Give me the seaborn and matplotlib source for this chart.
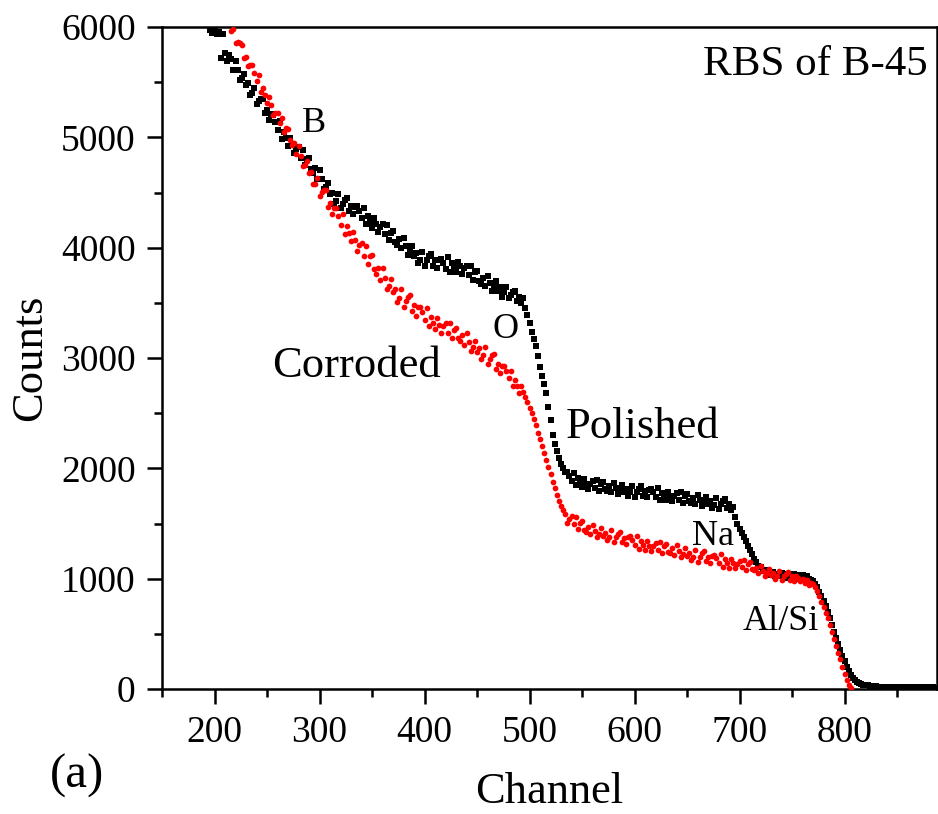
import numpy as np
import pandas as pd
import matplotlib
matplotlib.use("Agg")
import matplotlib.pyplot as plt
import seaborn as sns
from matplotlib.ticker import MultipleLocator

# RBS spectra of sample B-45: counts per channel (every second channel)
polished_channel = np.arange(196, 891, 2)
polished_counts = [
    5975, 5950, 5965, 5940, 5955, 5720, 5935, 5760, 5690, 5745,
    5708, 5612, 5692, 5610, 5522, 5538, 5576, 5473, 5490, 5387,
    5399, 5449, 5304, 5333, 5348, 5350, 5218, 5247, 5158, 5208,
    5199, 5140, 5066, 5147, 4989, 5049, 4990, 4923, 4997, 4930,
    4854, 4895, 4908, 4815, 4884, 4750, 4805, 4810, 4711, 4675,
    4718, 4622, 4702, 4620, 4532, 4548, 4585, 4483, 4499, 4397,
    4419, 4485, 4355, 4400, 4431, 4447, 4331, 4376, 4302, 4368,
    4379, 4331, 4268, 4360, 4214, 4284, 4236, 4181, 4265, 4210,
    4144, 4191, 4211, 4125, 4201, 4073, 4135, 4147, 4055, 4025,
    4078, 3994, 4084, 4014, 3936, 3964, 4013, 3921, 3949, 3857,
    3889, 3960, 3836, 3886, 3923, 3945, 3835, 3885, 3817, 3888,
    3899, 3862, 3811, 3913, 3778, 3860, 3823, 3778, 3874, 3830,
    3764, 3815, 3838, 3755, 3834, 3710, 3775, 3790, 3701, 3675,
    3728, 3649, 3745, 3680, 3608, 3642, 3696, 3610, 3643, 3557,
    3595, 3640, 3545, 3575, 3595, 3605, 3520, 3550, 3495, 3540,
    3450, 3390, 3320, 3240, 3170, 3110, 3020, 2920, 2840, 2760,
    2680, 2560, 2440, 2300, 2220, 2160, 2090, 2040, 2000, 1970,
    1969, 1933, 1886, 1962, 1849, 1908, 1872, 1832, 1901, 1860,
    1811, 1858, 1881, 1823, 1892, 1799, 1857, 1876, 1811, 1797,
    1844, 1787, 1867, 1821, 1768, 1799, 1846, 1783, 1813, 1750,
    1781, 1840, 1743, 1785, 1817, 1837, 1751, 1793, 1741, 1800,
    1815, 1784, 1742, 1822, 1714, 1779, 1748, 1712, 1786, 1750,
    1703, 1749, 1773, 1714, 1783, 1690, 1748, 1766, 1702, 1687,
    1734, 1677, 1757, 1711, 1658, 1689, 1736, 1673, 1703, 1640,
    1671, 1729, 1632, 1673, 1704, 1723, 1637, 1678, 1621, 1652,
    1560, 1500, 1450, 1410, 1380, 1340, 1300, 1260, 1220, 1180,
    1150, 1115, 1105, 1070, 1075, 1045, 1070, 1035, 1060, 1025,
    1045, 1020, 1050, 1010, 1035, 1045, 1005, 1030, 1040, 1000,
    1030, 1010, 1035, 1005, 1020, 995, 990, 975, 950, 920,
    880, 840, 800, 750, 700, 640, 580, 520, 460, 410,
    350, 300, 250, 200, 160, 130, 100, 80, 65, 55,
    45, 40, 35, 32, 30, 28, 25, 24, 22, 20,
    20, 18, 22, 17, 19, 16, 20, 15, 18, 16,
    17, 14, 18, 15, 16, 13, 17, 14, 15, 12,
    15, 13, 14, 12, 15, 11, 13, 12,
]

corroded_channel = np.arange(216, 807, 2)
corroded_counts = [
    5965, 5982, 5859, 5862, 5854, 5836, 5723, 5726, 5643, 5660,
    5652, 5586, 5509, 5563, 5414, 5450, 5385, 5313, 5362, 5290,
    5202, 5224, 5222, 5129, 5175, 5047, 5081, 5072, 4974, 4930,
    4948, 4847, 4921, 4834, 4740, 4750, 4782, 4674, 4685, 4577,
    4576, 4634, 4468, 4502, 4520, 4522, 4372, 4406, 4304, 4362,
    4356, 4290, 4209, 4303, 4126, 4196, 4130, 4057, 4143, 4070,
    3968, 4023, 4043, 3927, 4019, 3849, 3922, 3933, 3808, 3765,
    3816, 3705, 3819, 3726, 3624, 3656, 3716, 3596, 3629, 3509,
    3543, 3626, 3458, 3514, 3553, 3573, 3423, 3479, 3383, 3466,
    3466, 3414, 3346, 3453, 3289, 3373, 3321, 3260, 3360, 3300,
    3226, 3287, 3316, 3225, 3318, 3178, 3255, 3276, 3177, 3150,
    3212, 3119, 3225, 3148, 3063, 3097, 3156, 3055, 3089, 2988,
    3026, 3097, 2945, 2992, 3023, 3039, 2902, 2949, 2861, 2932,
    2932, 2880, 2816, 2883, 2747, 2797, 2745, 2686, 2748, 2690,
    2650, 2600, 2550, 2500, 2450, 2390, 2320, 2270, 2200, 2140,
    2080, 2010, 1950, 1880, 1820, 1760, 1700, 1660, 1620, 1590,
    1502, 1545, 1564, 1493, 1560, 1452, 1507, 1520, 1443, 1420,
    1469, 1404, 1489, 1436, 1377, 1408, 1457, 1386, 1417, 1346,
    1377, 1438, 1331, 1374, 1405, 1424, 1329, 1372, 1313, 1374,
    1387, 1352, 1305, 1390, 1271, 1338, 1303, 1262, 1341, 1300,
    1248, 1298, 1324, 1260, 1334, 1234, 1296, 1316, 1246, 1230,
    1280, 1216, 1302, 1250, 1192, 1224, 1274, 1204, 1236, 1166,
    1198, 1260, 1154, 1198, 1230, 1250, 1156, 1200, 1142, 1204,
    1218, 1184, 1138, 1224, 1106, 1174, 1140, 1100, 1180, 1140,
    1096, 1137, 1158, 1104, 1165, 1081, 1132, 1148, 1089, 1075,
    1098, 1049, 1112, 1072, 1026, 1049, 1085, 1031, 1053, 999,
    1022, 1069, 988, 1021, 1045, 1060, 988, 1021, 976, 1023,
    1010, 975, 995, 960, 990, 945, 965, 950, 925, 890,
    840, 790, 740, 690, 640, 580, 520, 450, 390, 330,
    270, 200, 140, 80, 35, 5,
]

x_ticks = [200, 300, 400, 500, 600, 700, 800]
y_ticks = [0, 1000, 2000, 3000, 4000, 5000, 6000]

polished = pd.DataFrame({"Channel": polished_channel, "Counts": polished_counts})
corroded = pd.DataFrame({"Channel": corroded_channel, "Counts": corroded_counts})

sns.set_style("ticks")
plt.rcParams["font.family"] = ["Liberation Serif", "DejaVu Serif"]
plt.rcParams["text.color"] = "black"
plt.rcParams["axes.labelcolor"] = "black"
plt.rcParams["xtick.color"] = "black"
plt.rcParams["ytick.color"] = "black"

fig = plt.figure(figsize=(9.38, 8.14), dpi=100)
ax = fig.add_axes([162 / 938, 125 / 814, 775 / 938, 662 / 814])

sns.scatterplot(data=polished, x="Channel", y="Counts", marker="s", color="black",
                s=15, linewidth=0, ax=ax, zorder=3)
sns.scatterplot(data=corroded, x="Channel", y="Counts", marker="o", color="#ff0000",
                s=17, linewidth=0, ax=ax, zorder=4)

ax.set_xlim(150, 888)
ax.set_ylim(0, 6000)
ax.set_xticks(x_ticks)
ax.set_yticks(y_ticks)
ax.xaxis.set_minor_locator(MultipleLocator(50))
ax.yaxis.set_minor_locator(MultipleLocator(500))

for side in ["left", "bottom", "top", "right"]:
    ax.spines[side].set_visible(True)
    ax.spines[side].set_linewidth(1.8)
    ax.spines[side].set_color("black")

ax.tick_params(which="major", direction="out", length=11, width=1.8,
               labelsize=27, pad=8, top=False, right=False, colors="black")
ax.tick_params(which="minor", direction="out", length=5.5, width=1.8,
               top=False, right=False, colors="black")

ax.set_xlabel("Channel", fontsize=32, color="black")
ax.set_ylabel("Counts", fontsize=32, color="black")
ax.xaxis.set_label_coords(0.5, -0.125)
ax.yaxis.set_label_coords(-0.145, 0.5)

ax.text(665, 5565, "RBS of B-45", fontsize=31, ha="left", va="baseline", color="black")
ax.text(283, 5048, "B", fontsize=26, ha="left", va="baseline", color="black")
ax.text(465, 3181, "O", fontsize=26, ha="left", va="baseline", color="black")
ax.text(255, 2828, "Corroded", fontsize=32, ha="left", va="baseline", color="black")
ax.text(534, 2275, "Polished", fontsize=32, ha="left", va="baseline", color="black")
ax.text(655, 1305, "Na", fontsize=26, ha="left", va="baseline", color="black")
ax.text(703, 535, "Al/Si", fontsize=26, ha="left", va="baseline", color="black")

fig.text(50 / 938, 1 - 788 / 814, "(a)", fontsize=35, ha="left", va="baseline", color="black")

fig.savefig("out.png", dpi=100, facecolor="white")
